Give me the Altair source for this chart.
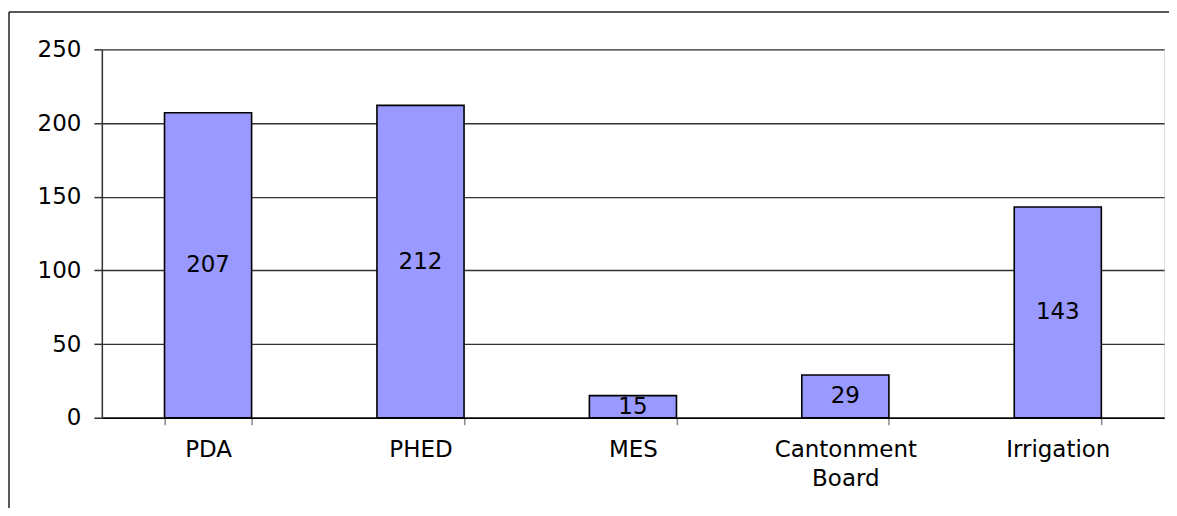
import altair as alt
import pandas as pd

categories = ["PDA", "PHED", "MES", "Cantonment Board", "Irrigation"]
values = [207, 212, 15, 29, 143]

df = pd.DataFrame({"cat": categories, "val": values})

FONT = "DejaVu Sans"
FS = 23

x_enc = alt.X(
    "cat:N",
    sort=categories,
    scale=alt.Scale(paddingInner=0.59, paddingOuter=0.295),
    axis=alt.Axis(
        title=None,
        labelAngle=0,
        labelFont=FONT,
        labelFontSize=FS,
        labelColor="#000",
        labelPadding=14,
        labelLineHeight=29,
        labelExpr="split(datum.label, ' ')",
        tickBand="extent",
        tickSize=7,
        tickColor="#888",
        tickWidth=1.5,
        domainColor="#000",
        domainWidth=1.5,
        grid=False,
    ),
)

y_scale = alt.Scale(domain=[0, 250], nice=False)

bars = alt.Chart(df).mark_bar(
    color="#9999FF", stroke="#000", strokeWidth=1.6
).encode(
    x=x_enc,
    y=alt.Y(
        "val:Q",
        scale=y_scale,
        axis=alt.Axis(
            title=None,
            values=[0, 50, 100, 150, 200, 250],
            labelFont=FONT,
            labelFontSize=FS,
            labelColor="#000",
            labelPadding=13,
            tickSize=8,
            tickColor="#333",
            tickWidth=1.5,
            domainColor="#333",
            domainWidth=1.5,
            grid=True,
            gridColor="#333",
            gridWidth=1.4,
        ),
    ),
)

labels = alt.Chart(df).transform_calculate(mid="datum.val / 2").mark_text(
    font=FONT, fontSize=FS, color="#000", baseline="middle", align="center"
).encode(
    x=alt.X("cat:N", sort=categories),
    y=alt.Y("mid:Q", scale=y_scale),
    text="val:Q",
)

frame_df = pd.DataFrame({"a": [0]})
frame_left = alt.Chart(frame_df).mark_rule(color="#222", strokeWidth=1.5).encode(
    x=alt.value(-93), y=alt.value(-37.5), y2=alt.value(480)
)
frame_top = alt.Chart(frame_df).mark_rule(color="#222", strokeWidth=1.5).encode(
    x=alt.value(-93), x2=alt.value(1080), y=alt.value(-37.5)
)

chart = alt.layer(bars, labels, frame_left, frame_top).properties(
    width=1064,
    height=369,
    autosize=alt.AutoSizeParams(type="none"),
    padding={"left": 94, "top": 41, "right": 5, "bottom": 90},
).configure_view(
    stroke="#888", strokeWidth=1.5
).configure(background="white")

chart.save("out.html", embed_options={"renderer": "svg", "actions": False})
